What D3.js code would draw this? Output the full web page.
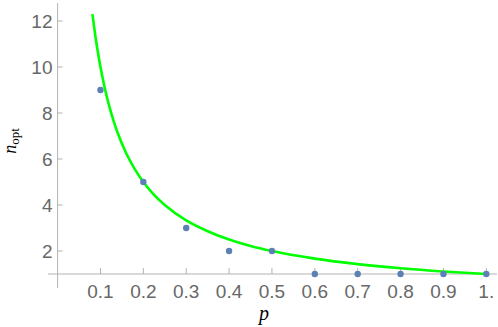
<!DOCTYPE html>
<html>
<head>
<meta charset="utf-8">
<script src="https://cdn.jsdelivr.net/npm/d3@7"></script>
<style>
html,body{margin:0;padding:0;background:#fff;}
svg{display:block;}
</style>
</head>
<body>
<svg id="chart" width="498" height="327"></svg>
<script>
// Data points
const pValues = [0.1, 0.2, 0.3, 0.4, 0.5, 0.6, 0.7, 0.8, 0.9, 1.0];
const nOpt    = [9, 5, 3, 2, 2, 1, 1, 1, 1, 1];
// Green curve samples
const curveP = [0.0813, 0.09, 0.1, 0.11, 0.12, 0.13, 0.14, 0.16, 0.18, 0.2, 0.225, 0.25, 0.3, 0.35, 0.4, 0.45, 0.5, 0.6, 0.7, 0.8, 0.9, 1.0];
const curveN = [12.3, 11.11, 10, 9.09, 8.33, 7.69, 7.14, 6.25, 5.56, 5, 4.44, 4, 3.33, 2.86, 2.5, 2.22, 2, 1.67, 1.43, 1.25, 1.11, 1];
// Tick labels
const xTicks = [0.1, 0.2, 0.3, 0.4, 0.5, 0.6, 0.7, 0.8, 0.9, 1.0];
const xTickLabels = ["0.1","0.2","0.3","0.4","0.5","0.6","0.7","0.8","0.9","1."];
const yTicks = [2, 4, 6, 8, 10, 12];

const svg = d3.select("#chart");
const x = d3.scaleLinear().domain([0, 1]).range([57.6, 486.3]);
const y = d3.scaleLinear().domain([1, 12]).range([274, 21]);

const axisColor = "#b3b3b3";
const labelColor = "#686868";
const tickFont = "Liberation Sans, Arial, sans-serif";
const tickSize = 19;

// axis lines
svg.append("line").attr("x1", 48).attr("x2", 497).attr("y1", y(1)).attr("y2", y(1))
  .attr("stroke", axisColor).attr("stroke-width", 1);
svg.append("line").attr("x1", x(0)).attr("x2", x(0)).attr("y1", 3).attr("y2", 288)
  .attr("stroke", axisColor).attr("stroke-width", 1);

// x ticks
const xg = svg.append("g");
xTicks.forEach((t, i) => {
  xg.append("line").attr("x1", x(t)).attr("x2", x(t)).attr("y1", y(1)).attr("y2", y(1) - 6)
    .attr("stroke", axisColor).attr("stroke-width", 1);
  xg.append("text").attr("x", x(t)).attr("y", 298)
    .attr("text-anchor", "middle")
    .attr("font-family", tickFont)
    .attr("font-size", tickSize).attr("fill", labelColor).text(xTickLabels[i]);
});
// y ticks
const yg = svg.append("g");
yTicks.forEach(t => {
  yg.append("line").attr("x1", x(0)).attr("x2", x(0) + 5).attr("y1", y(t)).attr("y2", y(t))
    .attr("stroke", axisColor).attr("stroke-width", 1);
  yg.append("text").attr("x", 52.5).attr("y", y(t)).attr("dy", "0.36em")
    .attr("text-anchor", "end")
    .attr("font-family", tickFont)
    .attr("font-size", tickSize).attr("fill", labelColor).text(t);
});

// curve
const line = d3.line().x(d => x(d[0])).y(d => y(d[1])).curve(d3.curveMonotoneX);
svg.append("path").datum(curveP.map((p, i) => [p, curveN[i]]))
  .attr("d", line).attr("fill", "none").attr("stroke", "#00ff00").attr("stroke-width", 2.6);

// points
svg.append("g").selectAll("circle").data(pValues.map((p, i) => [p, nOpt[i]])).join("circle")
  .attr("cx", d => x(d[0])).attr("cy", d => y(d[1])).attr("r", 3.2)
  .attr("fill", "#5e81b5");

// axis labels
svg.append("text").attr("x", 264).attr("y", 320).attr("text-anchor", "middle")
  .attr("font-family", "Liberation Serif, Times New Roman, serif").attr("font-style", "italic")
  .attr("font-size", 20).attr("fill", "#000").text("p");

const yl = svg.append("text").attr("transform", "translate(15.5,141) rotate(-90)")
  .attr("text-anchor", "middle")
  .attr("font-family", "Liberation Serif, Times New Roman, serif").attr("fill", "#000");
yl.append("tspan").attr("font-style", "italic").attr("font-size", 18).text("n");
yl.append("tspan").attr("font-size", 13).attr("dy", 3).text("opt");
</script>
</body>
</html>
